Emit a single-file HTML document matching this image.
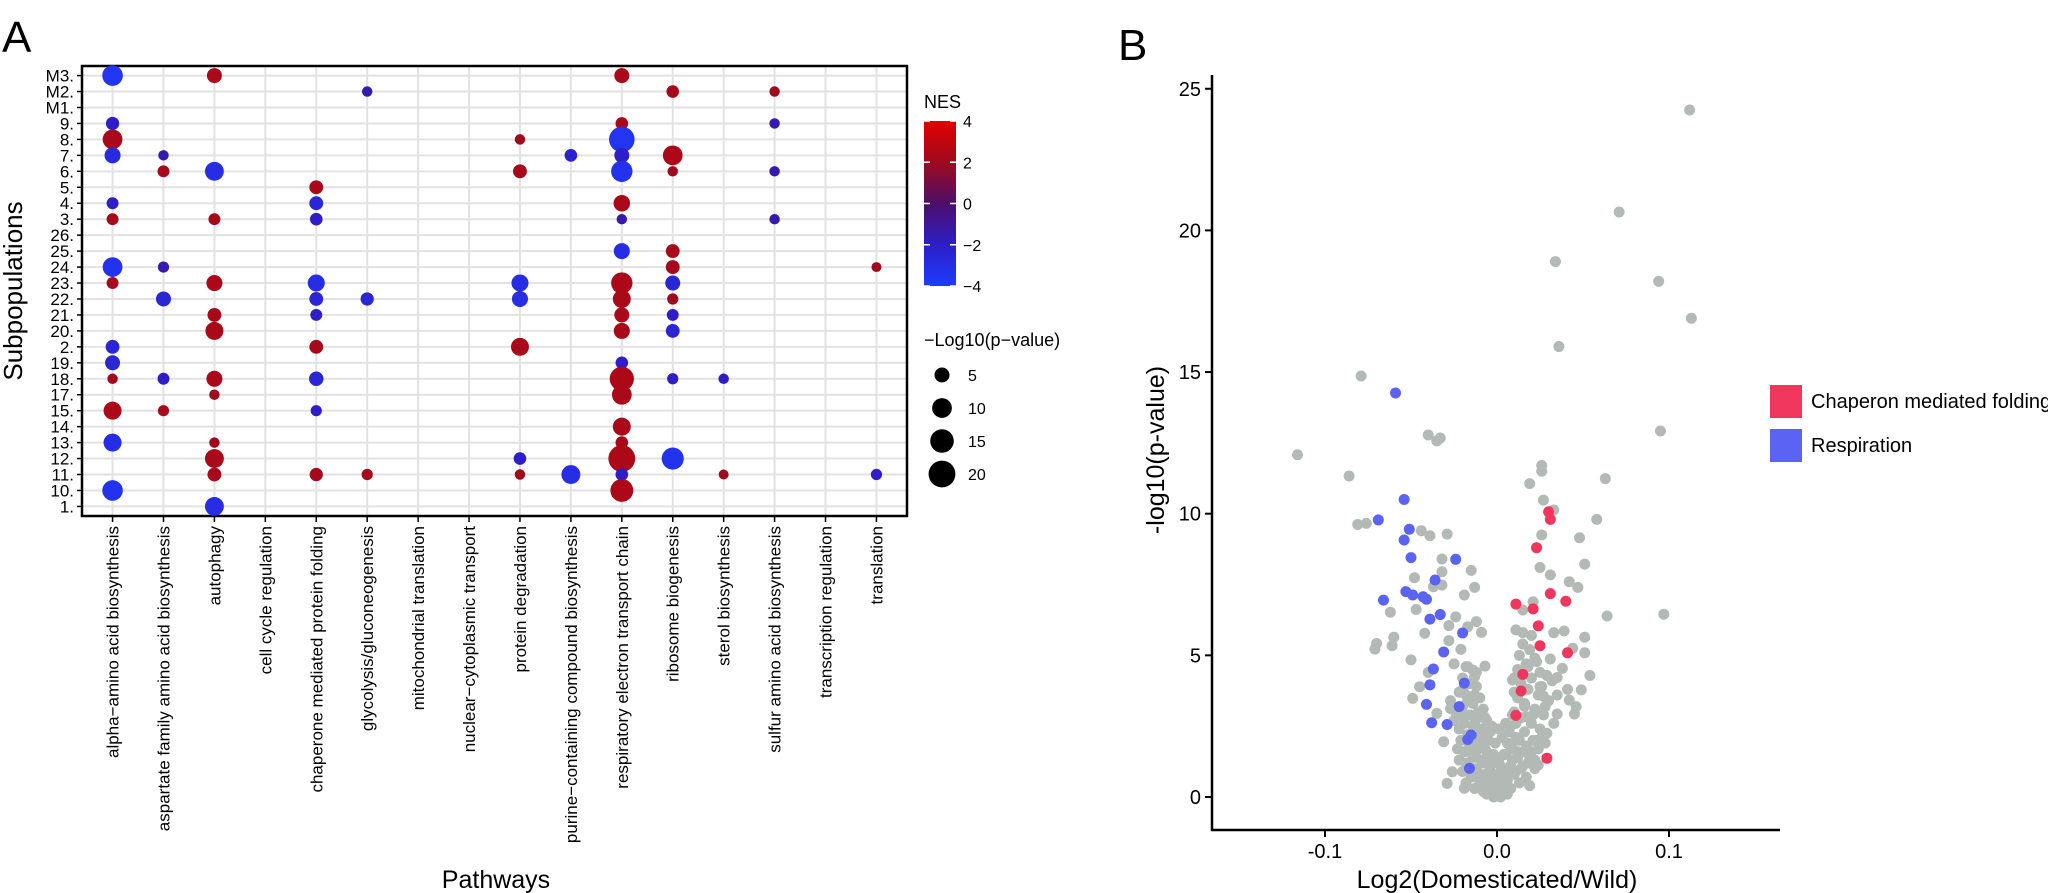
<!DOCTYPE html>
<html><head><meta charset="utf-8"><style>
html,body{margin:0;padding:0;background:#fff;}
svg{display:block;font-family:"Liberation Sans",sans-serif;}
</style></head><body>
<svg id="fig" width="2048" height="893" viewBox="0 0 2048 893" xmlns="http://www.w3.org/2000/svg">
<g id="panelA"></g>
<g id="panelB"></g>
</svg>
<script>
// ---------- Panel A data ----------
const pathways = ["alpha\u2212amino acid biosynthesis","aspartate family amino acid biosynthesis","autophagy","cell cycle regulation","chaperone mediated protein folding","glycolysis/gluconeogenesis","mitochondrial translation","nuclear\u2212cytoplasmic transport","protein degradation","purine\u2212containing compound biosynthesis","respiratory electron transport chain","ribosome biogenesis","sterol biosynthesis","sulfur amino acid biosynthesis","transcription regulation","translation"];
const subpops = ["M3.","M2.","M1.","9.","8.","7.","6.","5.","4.","3.","26.","25.","24.","23.","22.","21.","20.","2.","19.","18.","17.","15.","14.","13.","12.","11.","10.","1."];
const dotRow = ["M3.","M3.","M3.","M2.","M2.","M2.","9.","9.","9.","8.","8.","8.","7.","7.","7.","7.","7.","6.","6.","6.","6.","6.","6.","5.","4.","4.","4.","3.","3.","3.","3.","3.","25.","25.","24.","24.","24.","24.","23.","23.","23.","23.","23.","23.","22.","22.","22.","22.","22.","22.","21.","21.","21.","21.","20.","20.","20.","2.","2.","2.","19.","19.","18.","18.","18.","18.","18.","18.","18.","17.","17.","15.","15.","15.","14.","13.","13.","13.","12.","12.","12.","12.","11.","11.","11.","11.","11.","11.","11.","11.","10.","10.","1."];
const dotCol = [0,2,10, 5,11,13, 0,10,13, 0,8,10, 0,1,9,10,11, 1,2,8,10,11,13, 4, 0,4,10, 0,2,4,10,13, 10,11, 0,1,11,15, 0,2,4,8,10,11, 1,4,5,8,10,11, 2,4,10,11, 2,10,11, 0,4,8, 0,10, 0,1,2,4,10,11,12, 2,10, 0,1,4, 10, 0,2,10, 2,8,10,11, 2,4,5,8,9,10,12,15, 0,10, 2];
const dotNES = [-3.5,2.3,2.3, -1.5,2.2,2, -2,2.2,-1.5, 2.3,2,-3.5, -2.8,-1.5,-2.2,-2,2.4, 2.2,-3,2.2,-3.3,2,-1.5, 2.2, -2,-2.5,2.3, 2.2,2.2,-2,-1.5,-1.5, -3,2.2, -3.3,-1.5,2.2,2, 2.2,2.3,-3,-3,2.4,-2.5, -2.5,-2.5,-2.5,-3,2.3,2, 2.2,-2,2.3,-2, 2.3,2.3,-2.5, -2.5,2.2,2.3, -2.5,-2, 2,-2,2.3,-2.5,2.4,-2,-2, 2,2.3, 2.3,2.2,-2, 2.3, -3,2,2.2, 2.3,-2,2.4,-3.3, 2.2,2.2,2.2,2,-3,-2,2,-2, -3.3,2.4, -3];
const dotLogP = [11,5,5, 1.5,3,1.5, 3.5,3,1.5, 10,1.5,18, 6,1.5,3,5,10, 2.5,9,4,12,1.5,1.5, 4, 2.5,4,6.5, 2.5,2.5,3,1.5,1.5, 6,4, 10,2,4,1.2, 2.5,6,7,7,12,5, 5,4,3.5,6,8,2, 4,2.5,5,2.5, 8,6,4, 4,4,8, 5,3, 1.5,2.5,6,4.5,16,2,1.5, 1.5,10, 8,2,2, 8, 8,1.5,3, 9,3,20,13, 4,3.5,2,1.5,9,3,1.2,2, 11,14, 9];
const nesTicks = [4,2,0,-2,-4];
const sizeTicks = [5,10,15,20];

// ---------- Panel B data ----------
const grayX = [0.112,0.071,0.034,0.094,0.113,0.036,-0.079,-0.040,-0.033,-0.035,0.095,-0.116,-0.086,0.026,0.026,0.019,0.063,0.027,0.033,0.058,-0.081,-0.076,-0.044,-0.039,-0.029,0.026,0.048,-0.032,-0.032,-0.015,0.025,0.031,0.051,-0.048,-0.037,-0.032,-0.013,0.042,0.047,-0.019,-0.062,-0.047,-0.024,0.021,0.015,0.064,0.097,-0.028,-0.017,-0.012,-0.009,-0.042,0.011,0.015,0.033,0.039,0.051,-0.060,-0.070,-0.071,-0.061,-0.028,-0.021,-0.050,0.051,0.044,-0.025,-0.007,-0.017,-0.014,-0.040,0.054,0.038,0.031,0.029,0.035,0.023,-0.013,-0.045,-0.049,0.041,0.049,0.042,0.046,0.045,0.035,-0.035,-0.027,-0.031,-0.026,-0.029,-0.019,0.009,0.010,0.025,0.027,0.028,0.017,0.029,0.024,
-0.020,-0.016,-0.012,-0.022,-0.018,-0.010,-0.014,-0.020,-0.024,-0.016,-0.011,-0.019,-0.014,-0.022,-0.009,-0.017,-0.013,-0.021,-0.008,-0.016,-0.011,-0.019,-0.006,-0.014,-0.022,-0.009,-0.017,-0.004,-0.012,-0.020,-0.007,-0.015,-0.002,-0.010,-0.018,-0.005,-0.013,0.000,-0.008,-0.003,-0.016,-0.025,-0.027,-0.012,-0.008,-0.004,-0.002,-0.006,
0.015,0.019,0.013,0.022,0.017,0.012,0.025,0.020,0.014,0.032,0.018,0.024,0.012,0.030,0.016,0.022,0.010,0.027,0.014,0.020,0.008,0.025,0.016,0.011,0.021,0.006,0.017,0.024,0.012,0.004,0.019,0.009,0.015,0.002,0.022,0.011,0.006,0.017,0.001,0.013,0.008,0.003,0.019,0.028,0.033,0.026,0.035,0.010,0.020,0.008,0.004,
-0.018,-0.014,-0.010,-0.006,-0.002,0.002,0.006,0.010,0.014,0.018,-0.016,-0.012,-0.008,-0.004,0.000,0.004,0.008,0.012,0.016,-0.015,-0.011,-0.007,-0.003,0.001,0.005,0.009,0.013,-0.013,-0.009,-0.005,-0.001,0.003,0.007,0.011,-0.011,-0.007,-0.003,0.001,0.005,0.009,-0.020,-0.017,-0.021,-0.013,-0.018,0.016,0.021,0.018,0.023,0.020,-0.006,-0.002,0.002,0.006,-0.004,0.000,0.004,-0.023,0.022,0.026];
const grayY = [24.25,20.65,18.9,18.2,16.9,15.9,14.86,12.78,12.67,12.57,12.92,12.08,11.33,11.7,11.5,11.06,11.24,10.48,10.13,9.8,9.62,9.66,9.4,9.22,9.28,9.25,9.15,8.4,7.95,8.0,8.1,7.84,8.22,7.74,7.42,7.48,7.4,7.6,7.4,7.13,6.52,6.62,6.36,6.89,6.6,6.39,6.45,6.05,6.01,6.19,5.81,5.78,5.9,5.8,5.8,5.86,5.64,5.64,5.42,5.22,5.34,5.52,5.21,4.84,5.09,5.25,4.7,4.62,4.6,4.48,4.4,4.29,4.54,4.87,4.29,4.22,4.78,4.25,3.89,3.48,3.8,3.78,3.42,3.19,2.93,2.93,2.95,3.12,1.95,0.89,0.48,0.31,4.13,3.7,3.89,3.56,3.19,2.83,2.25,1.13,
4.2,4.0,3.9,3.7,3.6,3.5,3.3,3.2,3.0,2.9,2.8,2.6,2.5,2.4,2.4,2.2,2.1,2.0,2.0,1.8,1.7,1.6,1.6,1.4,1.3,1.3,1.1,1.1,1.0,0.9,0.8,0.7,0.7,0.5,0.5,0.4,0.3,0.3,0.2,0.1,1.9,2.7,3.4,4.4,3.1,2.3,1.5,2.7,
5.4,5.2,5.0,4.9,4.7,4.5,4.4,4.2,4.0,4.1,3.8,3.6,3.5,3.4,3.3,3.1,3.0,2.9,2.8,2.6,2.5,2.4,2.3,2.1,2.0,1.9,1.8,1.7,1.6,1.5,1.4,1.3,1.1,1.1,1.0,0.9,0.7,0.7,0.6,0.5,0.3,0.2,0.4,1.9,2.6,3.9,3.6,4.2,5.7,1.8,0.9,
1.2,1.0,0.8,0.6,0.5,0.5,0.6,0.8,1.0,1.2,1.6,1.4,1.2,0.9,0.8,0.9,1.1,1.4,1.6,2.1,1.9,1.7,1.4,1.3,1.5,1.7,2.0,2.6,2.3,2.0,1.9,2.1,2.3,2.6,3.0,2.8,2.5,2.4,2.6,2.9,3.8,3.4,2.9,3.6,4.6,3.2,2.9,4.6,2.0,1.6,0.1,0.0,0.0,0.1,0.2,0.15,0.25,1.7,1.3,2.1];
const respX = [-0.059,-0.054,-0.069,-0.051,-0.054,-0.050,-0.024,-0.036,-0.053,-0.049,-0.043,-0.041,-0.066,-0.039,-0.033,-0.020,-0.031,-0.037,-0.019,-0.039,-0.041,-0.022,-0.038,-0.029,-0.017,-0.015,-0.016];
const respY = [14.26,10.5,9.78,9.45,9.07,8.45,8.39,7.66,7.25,7.13,7.07,6.98,6.95,6.28,6.44,5.79,5.12,4.52,4.02,3.96,3.27,3.19,2.62,2.56,2.03,2.19,1.01];
const chapX = [0.030,0.031,0.023,0.031,0.040,0.011,0.021,0.024,0.025,0.041,0.015,0.014,0.011,0.029];
const chapY = [10.07,9.8,8.8,7.18,6.91,6.81,6.64,6.04,5.34,5.09,4.33,3.74,2.88,1.37];
const bYTicks = [0,5,10,15,20,25];
const bXTicks = [-0.1,0.0,0.1];
const bXTickLabels = ["-0.1","0.0","0.1"];

const NS = "http://www.w3.org/2000/svg";
function mk(tag, attrs, parent, text){
  const e = document.createElementNS(NS, tag);
  for (const k in attrs) e.setAttribute(k, attrs[k]);
  if (text !== undefined) e.textContent = text;
  parent.appendChild(e);
  return e;
}

// ---------- Panel A ----------
const A = document.getElementById('panelA');
const aL = 82, aT = 66, aR = 907, aB = 516;
const colStep = (aR - aL) / (pathways.length - 1 + 1.2);
const rowStep = (aB - aT) / (subpops.length - 1 + 1.2);
function ax(i){ return aL + (0.6 + i) * colStep; }
function ay(label){ return aT + (0.6 + subpops.indexOf(label)) * rowStep; }
function sizeR(v){ return Math.sqrt(60 + 33 * v) / 2; }
const stops = [[-4,[30,60,255]],[-2,[45,30,200]],[0,[75,15,105]],[2,[160,10,30]],[4,[225,0,0]]];
function nesColor(v){
  v = Math.max(-4, Math.min(4, v));
  for (let i=0;i<stops.length-1;i++){
    const [a,ca]=stops[i],[b,cb]=stops[i+1];
    if (v>=a && v<=b){ const t=(v-a)/(b-a);
      return 'rgb('+ca.map((c,j)=>Math.round(c+(cb[j]-c)*t)).join(',')+')'; }
  }
  return 'rgb(225,0,0)';
}

let t = mk('text',{x:2,y:52,'font-size':44},A,'A');



const gridG = mk('g',{},A);


subpops.forEach(s=>{
  const y = ay(s);
  mk('line',{x1:aL,x2:aR,y1:y,y2:y,stroke:'#e2e2e2','stroke-width':2},gridG);
  const lab = mk('text',{x:74,y:y+6,'font-size':17,'text-anchor':'end'},A,s);
  
  
  mk('line',{x1:aL-5,x2:aL,y1:y,y2:y,stroke:'#000','stroke-width':1.5},A);
});
pathways.forEach((p,i)=>{
  const x = ax(i);
  mk('line',{x1:x,x2:x,y1:aT,y2:aB,stroke:'#e2e2e2','stroke-width':2},gridG);
  mk('line',{x1:x,x2:x,y1:aB,y2:aB+6,stroke:'#000','stroke-width':1.5},A);
  const lab = mk('text',{x:0,y:0,'font-size':17,'text-anchor':'end',transform:'translate('+(x+6)+','+(aB+10)+') rotate(-90)'},A,p);
  
  
});
const box = mk('rect',{x:aL,y:aT,width:aR-aL,height:aB-aT,fill:'none',stroke:'#000','stroke-width':2.5},A);



const dotsG = mk('g',{},A);


for (let i=0;i<dotRow.length;i++){
  const c = mk('circle',{cx:ax(dotCol[i]),cy:ay(dotRow[i]),r:sizeR(dotLogP[i]),fill:nesColor(dotNES[i])},dotsG);
  
  
}

t = mk('text',{x:0,y:0,'font-size':26,'text-anchor':'middle',transform:'translate(22,291) rotate(-90)'},A,'Subpopulations');


t = mk('text',{x:496,y:888,'font-size':25,'text-anchor':'middle'},A,'Pathways');



// NES legend
const lg = mk('g',{},A);


mk('text',{x:924,y:108,'font-size':18},lg,'NES');
const defs = mk('defs',{},A);
const grad = mk('linearGradient',{id:'nesgrad',x1:0,y1:0,x2:0,y2:1},defs);
[4,2,0,-2,-4].forEach((v,i)=>mk('stop',{offset:(i*25)+'%','stop-color':nesColor(v)},grad));
const cbT=121, cbB=286;
const cb = mk('rect',{x:924,y:cbT,width:32,height:cbB-cbT,fill:'url(#nesgrad)'},lg);


nesTicks.forEach(v=>{
  const y = cbT + (4 - v) / 8 * (cbB - cbT);
  mk('line',{x1:924,x2:930,y1:y,y2:y,stroke:'#fff','stroke-width':1.5},lg);
  mk('line',{x1:950,x2:956,y1:y,y2:y,stroke:'#fff','stroke-width':1.5},lg);
  const l = mk('text',{x:963,y:y+6,'font-size':16},lg,String(v).replace('-','\u2212'));
  
  
});
const sg = mk('g',{},A);


mk('text',{x:924,y:346,'font-size':18},sg,'\u2212Log10(p\u2212value)');
sizeTicks.forEach((v,i)=>{
  const y = 375 + i*33;
  const c = mk('circle',{cx:942,cy:y,r:sizeR(v),fill:'#000'},sg);
  
  
  mk('text',{x:968,y:y+6,'font-size':16},sg,String(v));
});

// ---------- Panel B ----------
const B = document.getElementById('panelB');
const bL = 1212, bR = 1780, bAxisY = 830, bTop = 75;
const x0px = 1497, xPerUnit = 1720, y0px = 797, yPerUnit = 28.33;
function bx(v){ return x0px + v * xPerUnit; }
function by(v){ return y0px - v * yPerUnit; }

t = mk('text',{x:1118,y:60,'font-size':44},B,'B');



const pts = mk('g',{},B);


for (let i=0;i<grayX.length;i++){
  const c = mk('circle',{cx:bx(grayX[i]),cy:by(grayY[i]),r:5.5,fill:'#b3bab6'},pts);
  
  
}
for (let i=0;i<respX.length;i++){
  const c = mk('circle',{cx:bx(respX[i]),cy:by(respY[i]),r:5.5,fill:'#5a63f2'},pts);
  
  
}
for (let i=0;i<chapX.length;i++){
  const c = mk('circle',{cx:bx(chapX[i]),cy:by(chapY[i]),r:5.5,fill:'#f0365c'},pts);
  
  
}
const yax = mk('line',{x1:bL,x2:bL,y1:bTop,y2:bAxisY+1,stroke:'#000','stroke-width':2.5},B);


const xax = mk('line',{x1:bL-1,x2:bR,y1:bAxisY,y2:bAxisY,stroke:'#000','stroke-width':2.5},B);


bYTicks.forEach(v=>{
  const y = by(v);
  mk('line',{x1:bL-7,x2:bL,y1:y,y2:y,stroke:'#000','stroke-width':2},B);
  const l = mk('text',{x:bL-11,y:y+7,'font-size':20,'text-anchor':'end'},B,String(v));
  
  
});
bXTicks.forEach((v,i)=>{
  const x = bx(v);
  mk('line',{x1:x,x2:x,y1:bAxisY,y2:bAxisY+7,stroke:'#000','stroke-width':2},B);
  const l = mk('text',{x:x,y:858,'font-size':20,'text-anchor':'middle'},B,bXTickLabels[i]);
  
  
});
t = mk('text',{x:0,y:0,'font-size':25,'text-anchor':'middle',transform:'translate(1164,450) rotate(-90)'},B,'-log10(p-value)');


t = mk('text',{x:1497,y:888,'font-size':25,'text-anchor':'middle'},B,'Log2(Domesticated/Wild)');



const bl = mk('g',{},B);


let k = mk('rect',{x:1770,y:385,width:32,height:33,fill:'#f0365c'},bl);


mk('text',{x:1811,y:408,'font-size':20},bl,'Chaperon mediated folding');
k = mk('rect',{x:1770,y:429,width:32,height:33,fill:'#5a63f2'},bl);


mk('text',{x:1811,y:452,'font-size':20},bl,'Respiration');
</script>
</body></html>
